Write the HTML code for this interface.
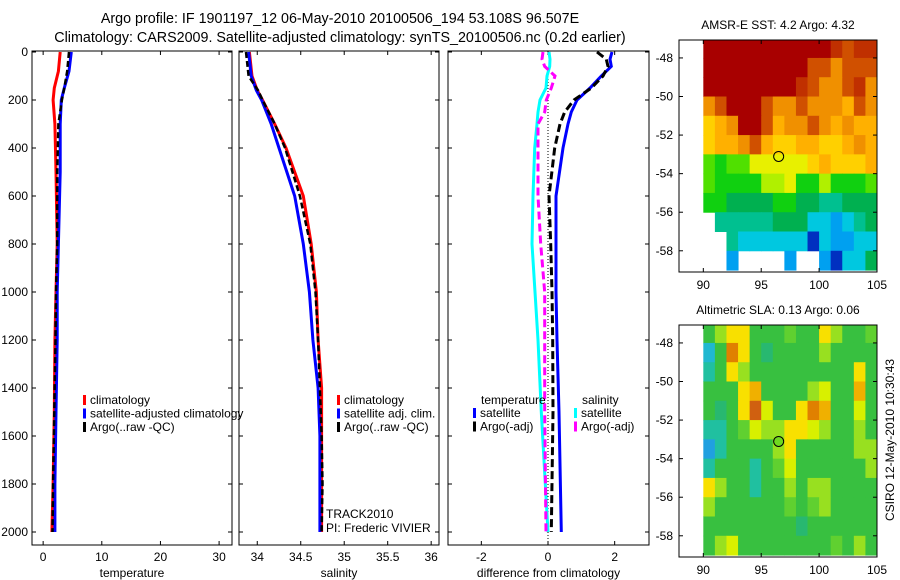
<!DOCTYPE html>
<html><head><meta charset="utf-8"><style>
html,body{margin:0;padding:0;background:#fff;}
svg{display:block;font-family:"Liberation Sans",sans-serif;}
text{font-size:12px;fill:#000;}
</style></head><body>
<svg id="s" width="900" height="580" viewBox="0 0 900 580">
<text x="340" y="23" text-anchor="middle" style="font-size:14.3px">Argo profile: IF 1901197_12 06-May-2010 20100506_194 53.108S 96.507E</text>
<text x="340" y="42" text-anchor="middle" style="font-size:14.3px">Climatology: CARS2009. Satellite-adjusted climatology: synTS_20100506.nc (0.2d earlier)</text>
<g id="g"></g>
</svg>
<script>
// ---- profile data ----
const tempDepth=[0,80,150,200,300,500,800,1000,1200,1500,1800,2000];
const tempClim=[2.9,2.6,1.9,1.7,2.0,2.2,2.4,2.2,2.0,1.9,1.7,1.5];
const tempSat=[4.8,4.4,3.6,3.1,2.9,2.9,2.6,2.4,2.4,2.2,2.0,2.0];
const tempArgo=[4.4,4.1,3.6,3.2,2.6,2.4,2.4,2.2,2.1,1.9,1.7,1.6];
const salDepth=[0,100,160,200,300,400,600,800,1000,1200,1400,1600,1800,2000];
const salClim=[33.91,33.94,34.0,34.06,34.2,34.33,34.53,34.62,34.68,34.70,34.74,34.74,34.74,34.74];
const salSat=[33.90,33.93,33.99,34.05,34.16,34.25,34.43,34.53,34.60,34.64,34.70,34.72,34.72,34.72];
const salArgo=[33.87,33.90,34.01,34.06,34.20,34.32,34.49,34.61,34.67,34.70,34.72,34.74,34.75,34.74];
const dDepth=[0,30,60,100,150,200,250,300,400,600,800,1000,1200,1500,2000];
const dTempSat=[1.92,1.86,1.9,1.6,1.26,0.87,0.7,0.6,0.45,0.24,0.24,0.24,0.27,0.33,0.4];
const dTempArgo=[1.47,1.75,1.8,1.65,1.3,0.78,0.5,0.36,0.2,0.03,0.08,0.12,0.14,0.15,0.1];
const dSalSat=[0.03,0.06,0.05,-0.03,-0.06,-0.24,-0.3,-0.33,-0.4,-0.45,-0.48,-0.39,-0.3,-0.2,0];
const dSalArgo=[-0.15,-0.18,-0.1,0.21,0.1,-0.05,-0.1,-0.3,-0.3,-0.3,-0.22,-0.1,-0.1,-0.1,-0.06];
const depthTicks=[0,200,400,600,800,1000,1200,1400,1600,1800,2000];
const tempTicks=[0,10,20,30];
const salTicks=[34,34.5,35,35.5,36];
const salTickLabels=["34","34.5","35","35.5","36"];
const diffTicks=[-2,0,2];
// ---- map data ----
const mapLons=[90,91,92,93,94,95,96,97,98,99,100,101,102,103,104];
const mapLats=[-47,-48,-49,-50,-51,-52,-53,-54,-55,-56,-57,-58];
const N=null;
const sst=[
[8,8,8,8,8,8,8,8,8,8,8,7.5,7,7.5,7.5],
[8,8,8,8,8,8,8,8,8,7,7,6.5,7,7,7],
[8,8,8,8,8,8,8,8,7.5,7,6.5,6.5,7,7.5,6.5],
[6.5,7,8,8,8,7,6.5,6.5,7,6.5,6.5,6.5,6,7,6.5],
[5.5,6,6.5,8,8,7,6,6.5,6.5,7,6.5,6,6.5,6,6],
[5.5,6,6,6.5,7,6,5.5,5.5,6,6,5.5,5.5,6,6.5,6],
[4,3.5,4,4,5,5,5,5,5,5.5,6,5.5,5.5,5.5,6],
[4,3.5,3.5,3.5,3.5,4.5,4.5,5,3.5,3.5,4.5,3.5,3.5,3.5,4],
[3.5,3.5,3,3,3,3,3.5,3.5,3,3,2.5,2.5,3,3,3],
[N,2.5,2.5,2.5,2.5,2.5,3,3,3,2,2,1.5,2,2.5,3],
[N,N,2.5,2,2,2,2,2,2,0.5,2,1.5,1.5,2,2],
[N,N,1.5,N,N,N,N,1.5,N,N,1.5,1,2,2,3]];
const sla=[
[0,0.1,0.2,0.2,0,0,0,0.05,0,0,0.2,0.1,0,0,0.05],
[-0.15,0,0.3,0.2,0,-0.05,0,0,0,0,0.1,0,0,0,0],
[-0.1,0,0.2,0.1,0,0,0,0,0,0,0,0,0,0.2,0],
[0,0,0,0.2,0.25,0,0,0,0,0.1,0.15,0,0,0.25,0],
[0,-0.05,0,0.2,0.35,0.15,0,0,0.2,0.3,0.25,0,0,0.15,0],
[-0.1,-0.1,0,0.05,0.15,0.1,0.1,0.2,0.2,0.15,0.1,0,0,0.1,0],
[-0.2,-0.1,0,0,0,0,0.1,0.2,0,0,0,0,0,0.1,0.1],
[-0.1,0,0,0,-0.1,0,0.05,0.15,0,0,0,0,0,0,0.1],
[0.2,0.1,0,0,-0.1,0,0,0.1,0,0.1,0.1,0,0,0,0],
[0.1,0,0,0,0,0,0,0.05,0,0.05,0.1,0,0,0,0],
[0,0,0,0,0,0,0,0,-0.05,0,0,0,0,0,0],
[0,0.1,0.15,0,0,0,0,0,0,0,0,0.05,0,0.1,0]];
const argoLon=96.507, argoLat=-53.108;
const mapXTicks=[90,95,100,105];
const mapYTicks=[-48,-50,-52,-54,-56,-58];

const NS="http://www.w3.org/2000/svg";
const G=document.getElementById('g');
function el(t,a,p){const e=document.createElementNS(NS,t);for(const k in a)e.setAttribute(k,a[k]);(p||G).appendChild(e);return e;}
function tx(x,y,s,anc,p){const e=el('text',{x:x,y:y,'text-anchor':anc||'middle'},p);e.textContent=s;return e;}
const PT=51,PB=545;
const yD=d=>52+d*0.24;
function panel(name,L,R,x0,x1,xt,xl,xlabel){
  const xs=v=>L+(v-x0)/(x1-x0)*(R-L);
  const g=el('g',{});
  
  
  el('rect',{x:L,y:PT,width:R-L,height:PB-PT,fill:'none',stroke:'#000','stroke-width':1},g);
  xt.forEach((v,i)=>{const x=xs(v);el('line',{x1:x,x2:x,y1:PB,y2:PB-4,stroke:'#000'},g);el('line',{x1:x,x2:x,y1:PT,y2:PT+4,stroke:'#000'},g);tx(x,561,xl[i],'middle',g);});
  depthTicks.forEach(d=>{const y=yD(d);el('line',{x1:L,x2:L+4,y1:y,y2:y,stroke:'#000'},g);el('line',{x1:R,x2:R-4,y1:y,y2:y,stroke:'#000'},g);});
  const xt2=tx((L+R)/2,577,xlabel,'middle',g);
  
  
  return {xs,g};
}
function series(p,depth,vals,color,dash,name,w){
  const pts=depth.map((d,i)=>p.xs(vals[i]).toFixed(1)+','+yD(d).toFixed(1)).join(' ');
  const e=el('polyline',{points:pts,fill:'none',stroke:color,'stroke-width':w||3},p.g);
  if(dash)e.setAttribute('stroke-dasharray',dash);
  
  
}
function legend(p,x,y,items){
  items.forEach((it,i)=>{const yy=y+i*13.5;el('rect',{x:x,y:yy-9,width:3,height:10,fill:it[0]},p.g);const t=tx(x+7,yy,it[1],'start',p.g);});
}
depthTicks.forEach(d=>tx(28,yD(d)+4,String(d),'end'));
const p1=panel('temperature-panel',32,232,-1.9,32.2,tempTicks,tempTicks.map(String),'temperature');
series(p1,tempDepth,tempClim,'#f00',null,'temp-climatology-line');
series(p1,tempDepth,tempSat,'#00f',null,'temp-satellite-line');
series(p1,tempDepth,tempArgo,'#000','6,3','temp-argo-line',2.5);
legend(p1,83,404,[['#f00','climatology'],['#00f','satellite-adjusted climatology'],['#000','Argo(..raw -QC)']]);
const p2=panel('salinity-panel',239,439,33.79,36.09,salTicks,salTickLabels,'salinity');
series(p2,salDepth,salClim,'#f00',null,'sal-climatology-line');
series(p2,salDepth,salSat,'#00f',null,'sal-satellite-line');
series(p2,salDepth,salArgo,'#000','6,3','sal-argo-line',2.5);
legend(p2,337,404,[['#f00','climatology'],['#00f','satellite adj. clim.'],['#000','Argo(..raw -QC)']]);
tx(326,518,'TRACK2010','start',p2.g);tx(326,532,'PI: Frederic VIVIER','start',p2.g);
const p3=panel('difference-panel',448,649,-3,3.03,diffTicks,['-2','0','2'],'difference from climatology');
el('line',{x1:p3.xs(0),x2:p3.xs(0),y1:yD(100),y2:PB,stroke:'#000','stroke-dasharray':'1,2'},p3.g);
series(p3,dDepth,dSalSat,'#0ff',null,'diff-sal-satellite-line');
series(p3,dDepth,dSalArgo,'#f0f','8,4','diff-sal-argo-line');
series(p3,dDepth,dTempSat,'#00f',null,'diff-temp-satellite-line');
series(p3,dDepth,dTempArgo,'#000','8,4','diff-temp-argo-line');
tx(481,404,'temperature','start',p3.g);tx(582,404,'salinity','start',p3.g);
legend(p3,473,417,[['#00f','satellite'],['#000','Argo(-adj)']]);
legend(p3,574,417,[['#0ff','satellite'],['#f0f','Argo(-adj)']]);
function sstColor(v){
  const st=[[0.5,'#0030c0'],[1.5,'#00a0f0'],[2,'#00c8e0'],[2.5,'#00c090'],[3,'#00b050'],[3.5,'#10d010'],[4,'#50e000'],[4.5,'#b0f000'],[5,'#e8f000'],[5.5,'#ffd000'],[6,'#ffb000'],[6.5,'#f09000'],[7,'#d05000'],[7.5,'#c03000'],[8,'#a80000']];
  let c=st[0][1];st.forEach(s=>{if(v>=s[0])c=s[1];});return c;}
function slaColor(v){
  const st=[[-0.2,'#20a0e0'],[-0.15,'#20b8d0'],[-0.1,'#20c0a0'],[-0.05,'#28b870'],[0,'#38c040'],[0.05,'#60d030'],[0.1,'#98e020'],[0.15,'#d8f000'],[0.2,'#f8e000'],[0.25,'#f0b000'],[0.3,'#e08000'],[0.35,'#d06010']];
  let c=st[0][1];st.forEach(s=>{if(v>=s[0]-1e-9)c=s[1];});return c;}
function map(name,T,B,titleStr,data,colorFn,latTopAx,latBotAx,mk){
  const L=679,R=877,lon0=87.9,lon1=105;
  const xs=v=>L+(v-lon0)/(lon1-lon0)*(R-L);
  const ys=v=>T+(latTopAx-v)/(latTopAx-latBotAx)*(B-T);
  const g=el('g',{});
  
  
  const cid=name+'-clip';
  const cp=el('clipPath',{id:cid},g);el('rect',{x:L,y:T,width:R-L,height:B-T},cp);
  const cg=el('g',{'clip-path':'url(#'+cid+')'},g);
  data.forEach((row,i)=>row.forEach((v,j)=>{
    if(v===null)return;
    const x=xs(mapLons[j]),y=ys(mapLats[i]);
    const r=el('rect',{x:x,y:y,width:xs(mapLons[j]+1)-x+0.5,height:ys(mapLats[i]-1)-y+0.5,fill:colorFn(v)},cg);
    
    
  }));
  el('rect',{x:L,y:T,width:R-L,height:B-T,fill:'none',stroke:'#000'},g);
  mapXTicks.forEach(v=>{const x=xs(v);el('line',{x1:x,x2:x,y1:B,y2:B-4,stroke:'#000'},g);el('line',{x1:x,x2:x,y1:T,y2:T+4,stroke:'#000'},g);tx(x,B+17,String(v),'middle',g);});
  mapYTicks.forEach(v=>{const y=ys(v);el('line',{x1:L,x2:L+4,y1:y,y2:y,stroke:'#000'},g);el('line',{x1:R,x2:R-4,y1:y,y2:y,stroke:'#000'},g);tx(673,y+4,String(v),'end',g);});
  const c=el('circle',{cx:xs(argoLon),cy:ys(argoLat),r:5,fill:mk,stroke:'#000'},g);
  
  
  const t=tx(778,T-11,titleStr,'middle',g);
  
  
}
map('sst-map',40,272,'AMSR-E SST: 4.2 Argo: 4.32',sst,sstColor,-47.07,-59.1,'none');
map('sla-map',325,557,'Altimetric SLA: 0.13 Argo: 0.06',sla,slaColor,-47.07,-59.1,'#70d820');
const ct=tx(0,0,'CSIRO 12-May-2010 10:30:43','middle');
ct.setAttribute('transform','translate(894,440) rotate(-90)');


</script>
</body></html>
